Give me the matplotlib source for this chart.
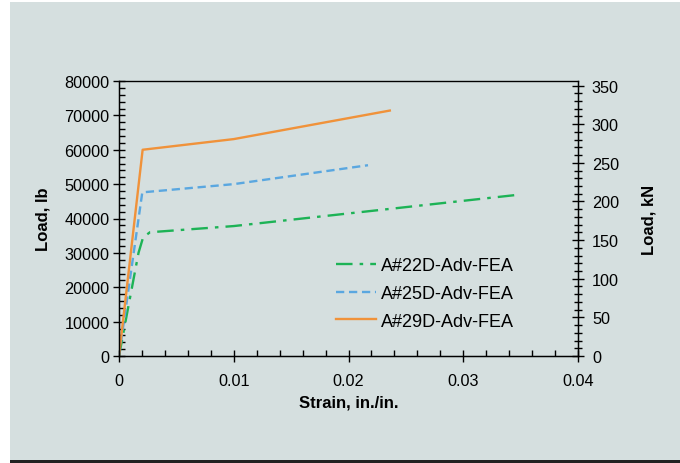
import matplotlib
matplotlib.use("Agg")
import matplotlib.pyplot as plt
from matplotlib.patches import Rectangle
from matplotlib.ticker import MultipleLocator

plt.rcParams['font.family'] = ['Liberation Sans', 'DejaVu Sans']

# Data (strain in./in., load lb)
s22 = [0, 0.0017, 0.0021, 0.0027, 0.0100, 0.0345]
p22 = [0, 30000, 34500, 36000, 37800, 46800]
s25 = [0, 0.00203, 0.0100, 0.0217]
p25 = [0, 47600, 50000, 55500]
s29 = [0, 0.00206, 0.0100, 0.0236]
p29 = [0, 60000, 63100, 71400]
labels = ["A#22D-Adv-FEA", "A#25D-Adv-FEA", "A#29D-Adv-FEA"]
xticks = [0, 0.01, 0.02, 0.03, 0.04]
xticklabels = ["0", "0.01", "0.02", "0.03", "0.04"]

bg = '#d5dfdf'
fig = plt.figure(figsize=(6.8, 4.64), dpi=100)
fig.patch.set_facecolor('white')
fig.patches.append(Rectangle((10/680, 3/464), 1 - 10/680, 1 - 6/464,
                             transform=fig.transFigure, facecolor=bg,
                             edgecolor='none', zorder=-10))
fig.patches.append(Rectangle((10/680, 0), 1 - 10/680, 3/464,
                             transform=fig.transFigure, facecolor='#222222',
                             edgecolor='none', zorder=-10))

ax = fig.add_axes([119/680, 1 - 357/464, (578 - 119)/680, (357 - 82)/464])
ax.set_facecolor(bg)
l1, = ax.plot(s22, p22, color='#1db356', lw=1.7, dashes=[7, 3, 1.5, 3], label=labels[0])
l2, = ax.plot(s25, p25, color='#5aa7e0', lw=1.7, dashes=[3.5, 2], label=labels[1])
l3, = ax.plot(s29, p29, color='#f0923a', lw=1.7, label=labels[2])

ax.set_xlim(0, 0.04)
ax.set_ylim(0, 80000)
ax.set_xticks(xticks)
ax.set_xticklabels(xticklabels)
ax.xaxis.set_minor_locator(MultipleLocator(0.002))
ax.yaxis.set_major_locator(MultipleLocator(10000))
ax.yaxis.set_minor_locator(MultipleLocator(2000))
ax.tick_params(axis='both', which='major', direction='inout', length=8, width=1, labelsize=11.7, colors='black')
ax.tick_params(axis='both', which='minor', direction='in', length=4, width=1)
ax.tick_params(axis='x', which='major', pad=8)
ax.tick_params(axis='y', which='major', pad=3)
for sp in ax.spines.values():
    sp.set_linewidth(1)
ax.spines['top'].set_color('#444444')
ax.set_xlabel("Strain, in./in.", fontsize=12, fontweight='bold', labelpad=5)
ax.set_ylabel("Load, lb", fontsize=12, fontweight='bold', labelpad=10)

ax2 = ax.twinx()
ax2.set_ylim(0, 80000 * 0.00444822)
ax2.yaxis.set_major_locator(MultipleLocator(50))
ax2.yaxis.set_minor_locator(MultipleLocator(10))
ax2.tick_params(axis='y', which='major', direction='inout', length=8, width=1, labelsize=11.7, pad=6)
ax2.tick_params(axis='y', which='minor', direction='inout', length=6, width=1)
ax2.set_ylabel("Load, kN", fontsize=12, fontweight='bold', labelpad=16)

ax2.legend(handles=[l1, l2, l3], loc='upper left', bbox_to_anchor=(0.473, 0.36), frameon=False,
           fontsize=13, handlelength=2.2, labelspacing=0.6, handletextpad=0.3,
           borderaxespad=0, borderpad=0)

fig.savefig("out.png", dpi=100, facecolor=fig.get_facecolor())
